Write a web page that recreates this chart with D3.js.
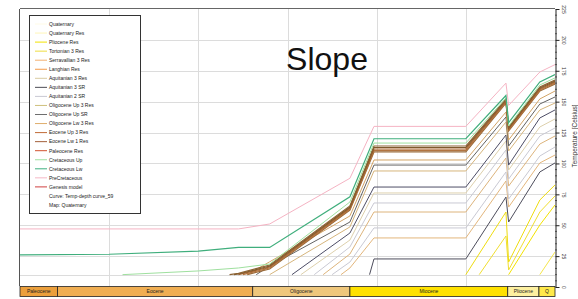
<!DOCTYPE html>
<html>
<head>
<meta charset="utf-8">
<script src="https://cdn.jsdelivr.net/npm/d3@7"></script>
<style>
    body { margin: 0; background: #fff; }
    svg { display: block; font-family: "Liberation Sans", Arial, sans-serif; }
</style>
</head>
<body>
<svg id="chart" width="578" height="299"></svg>
<script>
// breakpoint ages (Ma) shared by every temperature history
const ages = [60, 50, 40, 35.5, 32, 23, 20.3, 10, 5.5, 5.2, 1.7, 0];

// temperatures (deg C) at those ages, null = not yet deposited
const preCretaceous = [47, 47, 47, 47, 51, 88, 130, 130, 165, 147, 174, 180];
const cretaceousLw  = [26, 26.5, 29, 32, 32, 73, 120, 120, 155, 133, 166, 172];
const cretaceousUp  = [null, null, 13, 15.4, 18.6, 68.8, 116.5, 116.5, 153, 130.3, 163.5, 169.2];
const paleoceneRes  = [null, null, null, 11, 17.8, 65.6, 114.1, 114.1, 152.2, 129.5, 161.9, 167.5];
const eoceneLw1     = [null, null, null, 10.5, 17, 64.7, 112.9, 112.9, 151.4, 128.7, 161.1, 166.7];
const eoceneUp3     = [null, null, null, 10, 16.2, 63.9, 111.7, 111.7, 150.5, 127.9, 160.3, 165.9];
const genesisModel  = [null, null, null, null, 15.4, 63.1, 110.5, 110.5, 149.7, 127.1, 159.4, 165.1];
const oligLw3Res    = [null, null, null, null, 14.6, 62.3, 109.3, 109.3, 148.9, 126.3, 158.6, 164.3];
const oligUp3Res    = [null, null, null, null, 20.4, 57.5, 102.8, 102.8, 141.6, 119, 152.2, 158.6];
const oligUpSR      = [null, null, null, null, 17, 52.6, 98.7, 98.7, 137.6, 114.1, 148.1, 153.8];
const aquit3Res     = [null, null, null, null, null, 48.6, 93.9, 93.9, 133.5, 110.1, 143.3, 148.9];
const aquit3SR      = [null, null, null, null, null, 43.7, 80.9, 80.9, 123, 98.7, 136.8, 143.3];
const aquit3ResB    = [null, null, null, null, null, 38, 76.1, 76.1, 118.2, 94.7, 129.5, 136];
const aquit2SR      = [null, null, null, null, null, 32.4, 68, 68, 110.9, 87.4, 122.2, 128.7];
const langhianRes   = [null, null, null, null, null, 26.7, 60.7, 60.7, 104.4, 81.7, 115.7, 122.2];
const aquit2SRB     = [null, null, null, null, null, 20.2, 47.8, 47.8, 93.1, 71.2, 106, 113.3];
const serravRes     = [null, null, null, null, null, 15.4, 39.7, 39.7, 85.8, 64.7, 100.4, 106.8];
const aquit3SRB     = [null, null, null, null, null, null, 22.7, 22.7, 72.8, 52.6, 93.1, 100.4];
const tortonian3Res = [null, null, null, null, null, null, null, null, 60.7, 20.2, 70.4, 82.6];
const tortonianB    = [null, null, null, null, null, null, null, null, 41.3, 13.8, 60.7, 73.7];
const plioceneRes   = [null, null, null, null, null, null, null, null, null, null, 50.2, 66.4];
const quaternaryRes = [null, null, null, null, null, null, null, null, null, null, null, 28.3];

// deposition age of each layer (starts at surface temperature)
const surfaceTemp = 10;
const startAges = {
    cretaceousUp: 48.5, paleoceneRes: 36.5, eoceneLw1: 36, eoceneUp3: 35.5,
    genesisModel: 35, oligLw3Res: 34.5, oligUp3Res: 34.5, oligUpSR: 33.5,
    aquit3Res: 32, aquit3SR: 29.5, aquit3ResB: 28.5, aquit2SR: 27,
    langhianRes: 26, aquit2SRB: 25, serravRes: 24, aquit3SRB: 20.8,
    tortonian3Res: 10, tortonianB: 8.5, plioceneRes: 5.2, quaternaryRes: 1.7
};

const legendNames = ['Quaternary', 'Quaternary Res', 'Pliocene Res', 'Tortonian 3 Res',
    'Serravallian 3 Res', 'Langhian Res', 'Aquitanian 3 Res', 'Aquitanian 3 SR',
    'Aquitanian 2 SR', 'Oligocene Up 3 Res', 'Oligocene Up SR', 'Oligocene Lw 3 Res',
    'Eocene Up 3 Res', 'Eocene Lw 1 Res', 'Paleocene Res', 'Cretaceous Up',
    'Cretaceous Lw', 'PreCretaceous', 'Genesis model', 'Curve: Temp-depth curve_59',
    'Map: Quaternary'];
const legendColors = ['#fffbe6', '#fff6b8', '#f2e200', '#eedd40', '#f3b070', '#f49a48',
    '#d9cba0', '#4d4d55', '#c9c9d3', '#cfc07c', '#6e6e6e', '#dfae6c', '#c06a36',
    '#a4603a', '#d2522e', '#9fe09f', '#3fb07f', '#f5b7c6', '#d04040', null, null];

const eras = ['Paleocene', 'Eocene', 'Oligocene', 'Miocene', 'Pliocene', 'Q'];
const eraStarts = [60, 55.8, 33.9, 23.0, 5.3, 1.8];
const eraColors = ['#eb9f3c', '#f0ae52', '#efc77c', '#ffe100', '#fdf0a0', '#ffe94a'];

const tempTicks = [0, 25, 50, 75, 100, 125, 150, 175, 200, 225];
const gridTemps = [10, 25, 50, 75, 100, 125, 150, 175, 200];
const gridAges = [50, 40, 30, 20, 10];

const svg = d3.select('#chart');
const plotLeft = 20, plotRight = 555, plotTop = 9, plotBottom = 286;

const x = d3.scaleLinear().domain([60, 0]).range([plotLeft, plotRight]);
const y = d3.scaleLinear().domain([0, 225]).range([287, plotTop]);

svg.append('defs').append('clipPath').attr('id', 'plot')
    .append('rect').attr('x', plotLeft).attr('y', plotTop)
    .attr('width', plotRight - plotLeft).attr('height', plotBottom - plotTop);

// grid
svg.append('g').selectAll('line').data(gridTemps).enter().append('line')
    .attr('x1', plotLeft).attr('x2', plotRight)
    .attr('y1', d => Math.round(y(d)) + 0.5).attr('y2', d => Math.round(y(d)) + 0.5)
    .attr('stroke', '#dcdcdc').attr('stroke-width', 1);
svg.append('g').selectAll('line').data(gridAges).enter().append('line')
    .attr('x1', d => Math.round(x(d)) + 0.5).attr('x2', d => Math.round(x(d)) + 0.5)
    .attr('y1', plotTop).attr('y2', plotBottom)
    .attr('stroke', '#dcdcdc').attr('stroke-width', 1);

// curves: drawn bottom layers first
const curves = [
    ['aquit3SRB', aquit3SRB, '#4d4d5c', 1],
    ['serravRes', serravRes, '#e3b67c', 1],
    ['aquit2SRB', aquit2SRB, '#c9c9d3', 1],
    ['langhianRes', langhianRes, '#ddb47c', 1],
    ['aquit2SR', aquit2SR, '#c9c9d3', 1],
    ['aquit3ResB', aquit3ResB, '#ddd0ac', 1],
    ['aquit3SR', aquit3SR, '#4d4d66', 1],
    ['aquit3Res', aquit3Res, '#d6b57c', 1],
    ['oligUpSR', oligUpSR, '#636363', 1],
    ['oligUp3Res', oligUp3Res, '#d2a466', 1],
    ['quaternaryRes', quaternaryRes, '#f5e64a', 1],
    ['plioceneRes', plioceneRes, '#f2e200', 1],
    ['tortonianB', tortonianB, '#f0de30', 1],
    ['tortonian3Res', tortonian3Res, '#eedc10', 1],
    ['oligLw3Res', oligLw3Res, '#9a6a38', 1.2],
    ['genesisModel', genesisModel, '#b27440', 1.2],
    ['eoceneUp3', eoceneUp3, '#a8642e', 1.2],
    ['eoceneLw1', eoceneLw1, '#7e5a2e', 1.2],
    ['paleoceneRes', paleoceneRes, '#8c6232', 1.2],
    ['cretaceousUp', cretaceousUp, '#9fe09f', 1],
    ['cretaceousLw', cretaceousLw, '#3fae7c', 1.2],
    ['preCretaceous', preCretaceous, '#f5b3c3', 1]
];

const line = d3.line().x(d => x(d[0])).y(d => y(d[1]));

const g = svg.append('g').attr('clip-path', 'url(#plot)');
curves.forEach(function (c) {
    let pts = ages.map((a, i) => [a, c[1][i]]).filter(p => p[1] !== null);
    if (startAges[c[0]] !== undefined) {
        pts.unshift([startAges[c[0]], surfaceTemp]);
    }
    g.append('path')
        .attr('d', line(pts))
        .attr('fill', 'none')
        .attr('stroke', c[2])
        .attr('stroke-width', c[3]);
});

// frame
svg.append('line').attr('x1', plotLeft - 0.5).attr('x2', plotLeft - 0.5)
    .attr('y1', plotTop).attr('y2', plotBottom)
    .attr('stroke', '#555');
svg.append('line').attr('x1', plotLeft).attr('x2', plotRight)
    .attr('y1', plotTop - 0.5).attr('y2', plotTop - 0.5)
    .attr('stroke', '#666');

// right axis
const minor = d3.range(0, 226, 5).filter(v => v % 25 !== 0);
svg.append('g').selectAll('line').data(minor).enter().append('line')
    .attr('x1', plotRight).attr('x2', plotRight + 2)
    .attr('y1', d => y(d)).attr('y2', d => y(d))
    .attr('stroke', '#333').attr('stroke-width', 0.7);

const axis = svg.append('g')
    .attr('transform', 'translate(' + (plotRight + 0.5) + ',0)')
    .call(d3.axisRight(y).tickValues(tempTicks).tickSize(4).tickSizeOuter(0));
axis.select('.domain').attr('stroke', '#222');
axis.selectAll('.tick line').attr('stroke', '#222');
axis.selectAll('.tick text')
    .attr('x', 0).attr('dy', 0)
    .attr('transform', 'translate(6,0) rotate(90)')
    .attr('text-anchor', 'middle')
    .attr('font-size', 5)
    .attr('font-family', '"Liberation Sans", Arial, sans-serif')
    .attr('fill', '#333');

svg.append('text')
    .attr('transform', 'translate(576.5,136) rotate(-90)')
    .attr('text-anchor', 'middle')
    .attr('font-size', 6.5)
    .attr('fill', '#333')
    .text('Temperature [Celsius]');

// era band
const band = svg.append('g');
eras.forEach(function (e, i) {
    let x0 = x(eraStarts[i]);
    let x1 = i < eras.length - 1 ? x(eraStarts[i + 1]) : x(0);
    band.append('rect')
        .attr('x', x0).attr('y', 286.5)
        .attr('width', x1 - x0).attr('height', 10)
        .attr('fill', eraColors[i])
        .attr('stroke', '#222').attr('stroke-width', 0.8);
    band.append('text')
        .attr('x', (x0 + x1) / 2).attr('y', 293.3)
        .attr('text-anchor', 'middle')
        .attr('font-size', 5)
        .attr('fill', '#222')
        .text(e);
});

// title
svg.append('text')
    .attr('x', 327).attr('y', 70)
    .attr('text-anchor', 'middle')
    .attr('font-size', 32)
    .attr('fill', '#111')
    .text('Slope');

// legend
const lg = svg.append('g');
lg.append('rect')
    .attr('x', 29.5).attr('y', 15.5).attr('width', 111).attr('height', 198)
    .attr('fill', '#fff').attr('stroke', '#333').attr('stroke-width', 1);
legendNames.forEach(function (n, i) {
    let yy = 24 + i * 9.05;
    if (legendColors[i]) {
        lg.append('line')
            .attr('x1', 35).attr('x2', 47).attr('y1', yy).attr('y2', yy)
            .attr('stroke', legendColors[i]).attr('stroke-width', 1);
    }
    lg.append('text')
        .attr('x', 49).attr('y', yy + 1.8)
        .attr('font-size', 5)
        .attr('fill', '#222')
        .text(n);
});
</script>
</body>
</html>
